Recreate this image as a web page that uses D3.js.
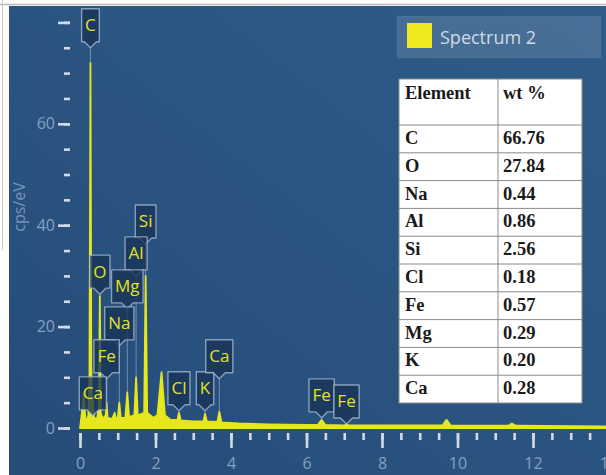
<!DOCTYPE html>
<html>
<head>
<meta charset="utf-8">
<script src="https://cdn.jsdelivr.net/npm/d3@7/dist/d3.min.js"></script>
<style>
body { margin: 0; background: #fff; }
svg { display: block; }
</style>
</head>
<body>
<div id="chart"></div>
<script>
// Spectrum: energy (keV) and counts (cps/eV)
var energy = [0.00, 0.05, 0.10, 0.14, 0.18, 0.22, 0.25, 0.277, 0.30, 0.32, 0.341, 0.37, 0.45, 0.50, 0.525, 0.55,
    0.60, 0.68, 0.705, 0.73, 0.85, 0.92, 0.95, 1.00, 1.041, 1.08, 1.20, 1.253, 1.30, 1.44, 1.486, 1.53,
    1.70, 1.739, 1.78, 1.95, 2.05, 2.16, 2.25, 2.40, 2.58, 2.621, 2.67, 3.00, 3.27, 3.312, 3.36, 3.64,
    3.69, 3.75, 4.20, 5.00, 6.00, 6.30, 6.40, 6.50, 7.00, 7.06, 7.12, 9.60, 9.71, 9.82, 11.35, 11.44,
    11.55, 14.0];
var counts = [0, 3, 7, 2, 1.5, 2.5, 10, 72, 12, 4, 6, 2, 1.8, 4, 26, 3,
    1.8, 2.5, 5, 2, 1.8, 3, 1.8, 2, 5, 2, 2, 7, 2.2, 2.5, 10, 2.5,
    3, 30, 3, 2, 2.5, 11, 2.5, 1.6, 1.6, 3, 1.5, 1.3, 1.3, 2.8, 1.3, 1.2,
    3.2, 1.1, 0.9, 0.7, 0.6, 0.6, 1.6, 0.6, 0.5, 0.8, 0.5, 0.5, 1.6, 0.5, 0.45, 0.9,
    0.45, 0.3];

// Peak labels: element, line energy (keV), level of the label tip (cps/eV)
var labelNames = ['C', 'O', 'Si', 'Al', 'Mg', 'Na', 'Fe', 'Ca', 'Cl', 'K', 'Ca', 'Fe', 'Fe'];
var labelEnergy = [0.277, 0.525, 1.739, 1.486, 1.253, 1.041, 0.705, 0.341, 2.621, 3.312, 3.69, 6.40, 7.06];
var labelLevel = [75, 26.4, 36.3, 30, 23.5, 16.2, 9.7, 2.4, 3.4, 3.4, 9.7, 2.0, 0.8];

// Table
var tableElements = ['C', 'O', 'Na', 'Al', 'Si', 'Cl', 'Fe', 'Mg', 'K', 'Ca'];
var tableWt = ['66.76', '27.84', '0.44', '0.86', '2.56', '0.18', '0.57', '0.29', '0.20', '0.28'];

// Axis ticks
var xMajor = [0, 2, 4, 6, 8, 10, 12, 14];
var xMinor = d3.range(0, 14.01, 0.5);
var yMajor = [0, 20, 40, 60, 80];
var yLabels = [0, 20, 40, 60];
var yMinor = d3.range(0, 80.01, 5);

var width = 606, height = 475;

var svg = d3.select('#chart').append('svg')
    .attr('width', width)
    .attr('height', height);

// window frame bits
svg.append('line').attr('x1', 0).attr('x2', width).attr('y1', 4.5).attr('y2', 4.5)
    .style('stroke', '#b9b9b9').style('stroke-width', 1.5);
svg.append('line').attr('x1', 2.5).attr('x2', 2.5).attr('y1', 0).attr('y2', 250)
    .style('stroke', '#c4c4c4').style('stroke-width', 1);

var defs = svg.append('defs');
var grad = defs.append('linearGradient').attr('id', 'bg')
    .attr('x1', 0).attr('y1', 1).attr('x2', 1).attr('y2', 0);
grad.append('stop').attr('offset', '0%').attr('stop-color', '#264c78');
grad.append('stop').attr('offset', '100%').attr('stop-color', '#2f5c89');

svg.append('rect')
    .attr('x', 9).attr('y', 6)
    .attr('width', width - 9).attr('height', height - 6)
    .style('fill', 'url(#bg)');

defs.append('clipPath').attr('id', 'plot')
    .append('rect').attr('x', 76).attr('y', 6).attr('width', width - 76).attr('height', 423);

// Scales
var x = d3.scaleLinear().domain([0, 14]).range([80, 80 + 14 * 37.75]);
var y = d3.scaleLinear().domain([0, 80]).range([428, 22.4]);

// Spectrum
var pts = energy.map(function(e, i) { return [e, counts[i]]; });

var area = d3.area()
    .x(function(d) { return x(d[0]); })
    .y0(y(0))
    .y1(function(d) { return y(d[1]); });

svg.append('path')
    .datum(pts)
    .attr('clip-path', 'url(#plot)')
    .attr('d', area)
    .style('fill', '#e6e71c')
    .style('stroke', '#e6e71c')
    .style('stroke-width', 1.8)
    .style('stroke-linejoin', 'round');

// Axes
var tickColor = '#d3dae3';
var labelColor = '#86a0c0';

function styleAxis(g) {
    g.select('.domain').remove();
    g.selectAll('.tick line').style('stroke', tickColor).style('stroke-width', 2.6);
    g.selectAll('.tick text')
        .style('fill', labelColor)
        .style('font-family', '"Open Sans", sans-serif')
        .style('font-size', '16px');
}

svg.append('g')
    .attr('transform', 'translate(0,433)')
    .call(d3.axisBottom(x).tickValues(xMinor).tickSize(7).tickFormat(''))
    .call(styleAxis);

svg.append('g')
    .attr('transform', 'translate(0,433)')
    .call(d3.axisBottom(x).tickValues(xMajor).tickSize(15).tickPadding(10).tickFormat(d3.format('d')))
    .call(styleAxis);

svg.append('g')
    .attr('transform', 'translate(70,0)')
    .call(d3.axisLeft(y).tickValues(yMinor).tickSize(6).tickFormat(''))
    .call(styleAxis);

svg.append('g')
    .attr('transform', 'translate(70,0)')
    .call(d3.axisLeft(y).tickValues(yMajor).tickSize(12).tickPadding(3)
        .tickFormat(function(d) { return yLabels.indexOf(d) >= 0 ? d : ''; }))
    .call(styleAxis);

svg.append('text')
    .attr('transform', 'translate(25,207) rotate(-90)')
    .attr('text-anchor', 'middle')
    .style('fill', '#7893b6')
    .style('font-family', '"Open Sans", sans-serif')
    .style('font-size', '16px')
    .text('cps/eV');

// Peak labels
function peakAt(e) {
    var best = 0;
    energy.forEach(function(v, i) {
        if (Math.abs(v - e) < Math.abs(energy[best] - e)) best = i;
    });
    return counts[best];
}

function callout(w, h, p) {
    var b = -p, t = -p - h, l = -w / 2, r = w / 2;
    return 'M0,0 L' + (-p) + ',' + b + ' L' + l + ',' + b + ' L' + l + ',' + t +
        ' L' + r + ',' + t + ' L' + r + ',' + b + ' L' + p + ',' + b + ' Z';
}

var labels = svg.selectAll('.peak-label')
    .data(labelNames.map(function(n, i) {
        return { name: n, e: labelEnergy[i], level: labelLevel[i] };
    }))
    .enter().append('g')
    .attr('class', 'peak-label')
    .attr('transform', function(d) { return 'translate(' + x(d.e) + ',' + y(d.level) + ')'; });

labels.append('line')
    .attr('x1', 0).attr('x2', 0).attr('y1', 0)
    .attr('y2', function(d) { return Math.max(0, y(peakAt(d.e)) - y(d.level)); })
    .style('stroke', 'rgba(200,215,230,0.45)')
    .style('stroke-width', 1);

labels.each(function(d) {
    var g = d3.select(this);
    var box = g.append('path');
    var t = g.append('text')
        .attr('text-anchor', 'middle')
        .style('fill', '#e2e322')
        .style('font-family', '"Open Sans", sans-serif')
        .style('font-size', '17px')
        .text(d.name);
    var w = t.node().getComputedTextLength() + 7;
    var h = 33;
    box.attr('d', callout(w, h, 6))
        .style('fill', 'rgba(24,50,86,0.78)')
        .style('stroke', 'rgba(170,190,212,0.75)')
        .style('stroke-width', 1.4)
        .style('stroke-linejoin', 'round');
    t.attr('y', -6 - h / 2 + 6);
});

// Legend
svg.append('rect')
    .attr('x', 397).attr('y', 16).attr('width', 204).attr('height', 42)
    .attr('rx', 2)
    .style('fill', 'rgba(255,255,255,0.12)')
    .style('stroke', 'rgba(255,255,255,0.06)');
svg.append('rect')
    .attr('x', 407).attr('y', 23).attr('width', 25).attr('height', 25)
    .style('fill', '#efe81f');
svg.append('text')
    .attr('x', 440).attr('y', 44)
    .style('fill', '#d2dae3')
    .style('font-family', '"Open Sans", sans-serif')
    .style('font-size', '18px')
    .text('Spectrum 2');

// Table
var tX = 399, tY = 79, tW = 183, colX = 498, headH = 46, rowH = 27.8;
var tableG = svg.append('g');
var tBottom = tY + headH + rowH * tableElements.length;

tableG.append('rect')
    .attr('x', tX).attr('y', tY).attr('width', tW).attr('height', tBottom - tY)
    .style('fill', '#fff')
    .style('stroke', '#8a8a8a');

tableG.append('line')
    .attr('x1', colX).attr('x2', colX).attr('y1', tY).attr('y2', tBottom)
    .style('stroke', '#8a8a8a');

tableG.selectAll('.row-line')
    .data(tableElements)
    .enter().append('line')
    .attr('x1', tX).attr('x2', tX + tW)
    .attr('y1', function(d, i) { return tY + headH + i * rowH; })
    .attr('y2', function(d, i) { return tY + headH + i * rowH; })
    .style('stroke', '#8a8a8a');

var serif = '"Liberation Serif", "Times New Roman", serif';

tableG.append('text').attr('x', 405).attr('y', tY + 20).text('Element');
tableG.append('text').attr('x', 503).attr('y', tY + 20).text('wt %');

tableG.selectAll('.el')
    .data(tableElements)
    .enter().append('text')
    .attr('x', 405)
    .attr('y', function(d, i) { return tY + headH + i * rowH + 19; })
    .text(function(d) { return d; });

tableG.selectAll('.wt')
    .data(tableWt)
    .enter().append('text')
    .attr('x', 503)
    .attr('y', function(d, i) { return tY + headH + i * rowH + 19; })
    .text(function(d) { return d; });

tableG.selectAll('text')
    .style('font-family', serif)
    .style('font-weight', 'bold')
    .style('font-size', '18.5px')
    .style('fill', '#1a1a1a');
</script>
</body>
</html>
